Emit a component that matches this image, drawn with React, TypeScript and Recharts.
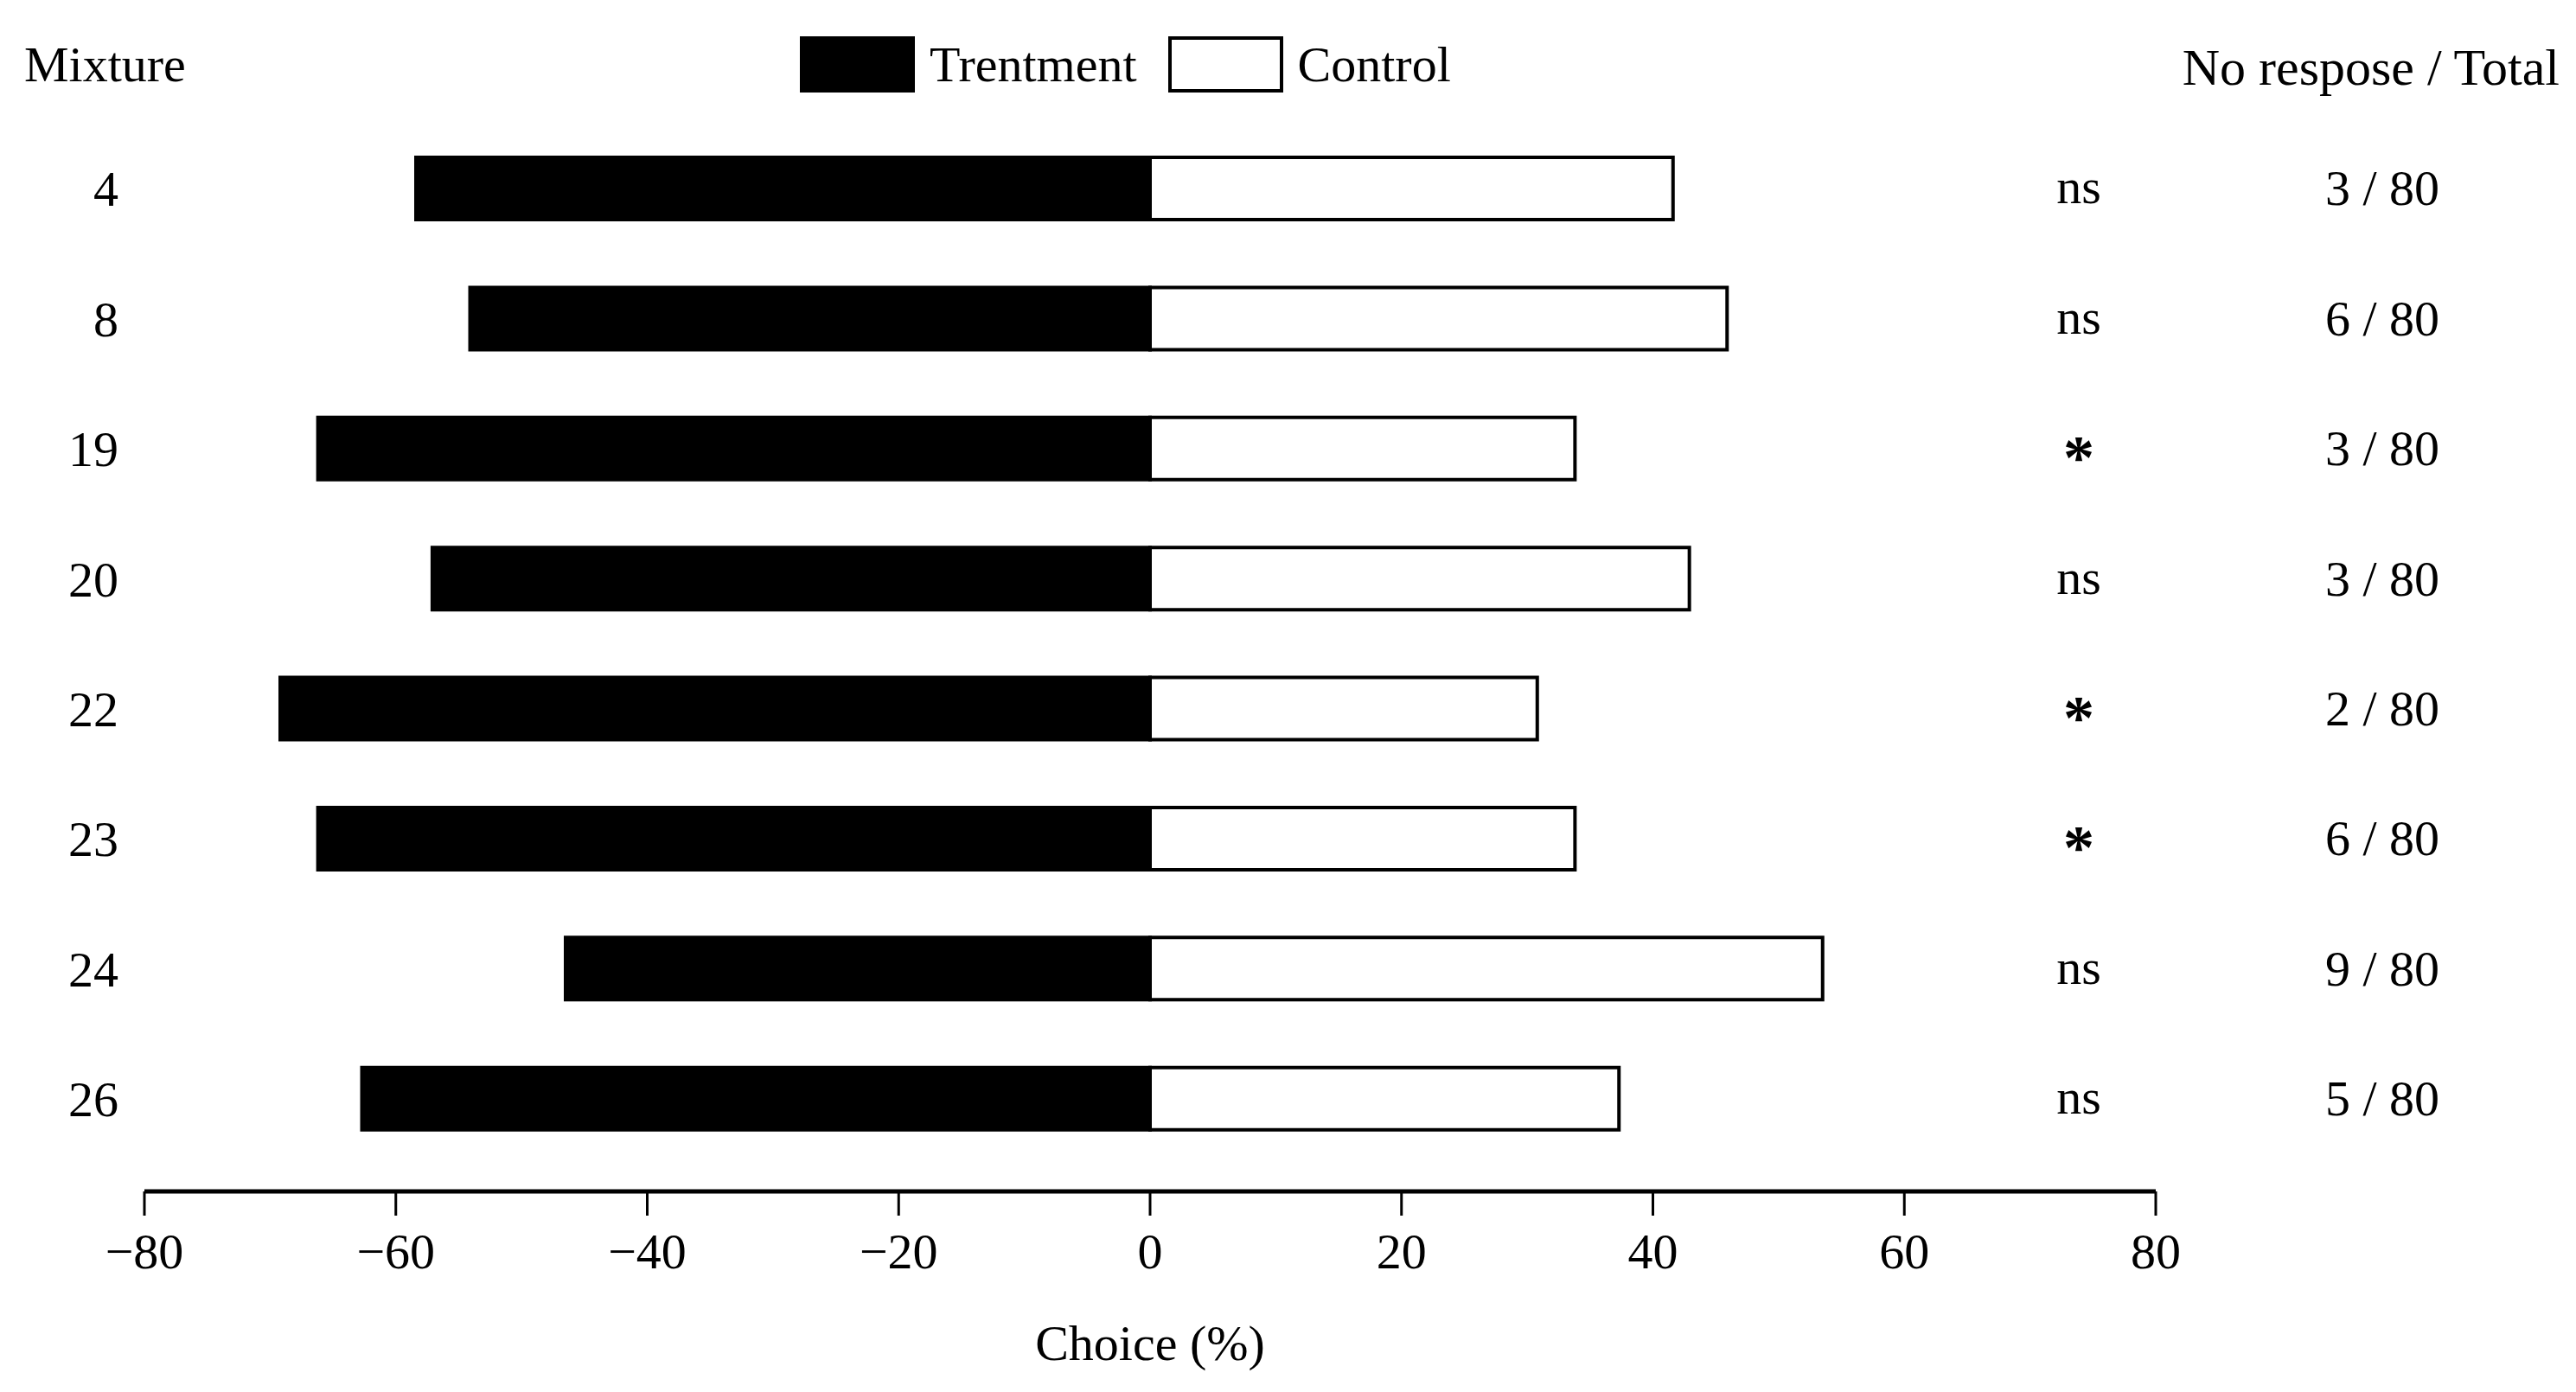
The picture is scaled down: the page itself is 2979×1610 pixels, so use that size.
import React from "react";
import {
  BarChart,
  Bar,
  XAxis,
  YAxis,
  Legend,
} from "recharts";

const mixtures = ["4", "8", "19", "20", "22", "23", "24", "26"];
const treatment = [-58.4, -54.1, -66.2, -57.1, -69.2, -66.2, -46.5, -62.7];
const control = [41.6, 45.9, 33.8, 42.9, 30.8, 33.8, 53.5, 37.3];
const significance = ["ns", "ns", "*", "ns", "*", "*", "ns", "ns"];
const noResponse = [3, 6, 3, 3, 2, 6, 9, 5];
const total = 80;
const xTicks = [-80, -60, -40, -20, 0, 20, 40, 60, 80];
const seriesNames = ["Trentment", "Control"];

const FONT = "'Liberation Serif', 'Times New Roman', serif";
const FS = 58;

const chartData = mixtures.map((m, i) => ({
  mixture: m,
  treatment: treatment[i],
  control: control[i],
}));

const fmt = (v: number) => (v < 0 ? `\u2212${Math.abs(v)}` : `${v}`);

function RightTick(props: any) {
  const { x, y, index } = props;
  const sig = significance[index];
  const star = sig === "*";
  return (
    <g fontFamily={FONT} fontSize={FS} fill="#000">
      <text
        x={x - 89}
        y={star ? y + 9 : y - 3}
        dy="0.35em"
        textAnchor="middle"
        fontSize={star ? 72 : FS}
        fontWeight={star ? "bold" : "normal"}
      >
        {sig}
      </text>
      <text x={x + 262} y={y - 1} dy="0.35em" textAnchor="middle">
        {`${noResponse[index]} / ${total}`}
      </text>
    </g>
  );
}

function LeftTick(props: any) {
  const { y, payload } = props;
  return (
    <text x={137} y={y} dy="0.35em" textAnchor="end" fontFamily={FONT} fontSize={FS} fill="#000">
      {payload.value}
    </text>
  );
}

function LegendContent(props: any) {
  const items = [...(props.payload || [])].sort(
    (a: any, b: any) => seriesNames.indexOf(a.value) - seriesNames.indexOf(b.value)
  );
  return (
    <div style={{ display: "flex", alignItems: "flex-start", height: 101, fontFamily: FONT, fontSize: FS, color: "#000" }}>
      {items.map((entry: any, i: number) => (
        <div key={i} style={{ display: "flex", alignItems: "center", marginRight: 36, height: 65 }}>
          <span
            style={{
              display: "inline-block",
              width: 133,
              height: 65,
              background: entry.color,
              border: "4px solid #000",
              boxSizing: "border-box",
              marginRight: 17,
            }}
          />
          <span style={{ lineHeight: 1 }}>{entry.value}</span>
        </div>
      ))}
    </div>
  );
}

export default function App() {
  return (
    <div style={{ position: "absolute", left: 0, top: 0, width: 2979, height: 1610, background: "#fff" }}>
      <span style={{ position: "absolute", left: 28, top: 46, fontFamily: FONT, fontSize: FS, lineHeight: 1 }}>
        Mixture
      </span>
      <span style={{ position: "absolute", right: 19, top: 48, fontFamily: FONT, fontSize: 60, lineHeight: 1 }}>
        No respose / Total
      </span>
      <BarChart
        width={2979}
        height={1610}
        data={chartData}
        layout="vertical"
        stackOffset="sign"
        barSize={72}
        margin={{ top: 42, right: 0, bottom: 0, left: 0 }}
      >
        <XAxis
          type="number"
          domain={[-80, 80]}
          ticks={xTicks}
          tickFormatter={fmt}
          height={232}
          tickSize={28}
          tickMargin={20}
          axisLine={{ stroke: "#000", strokeWidth: 5 }}
          tickLine={{ stroke: "#000", strokeWidth: 3 }}
          tick={{ fill: "#000", fontFamily: FONT, fontSize: FS }}
          label={{
            value: "Choice (%)",
            position: "insideTop",
            offset: 154,
            fill: "#000",
            fontFamily: FONT,
            fontSize: FS,
          }}
        />
        <YAxis
          type="category"
          dataKey="mixture"
          width={167}
          axisLine={false}
          tickLine={false}
          tickSize={0}
          padding={{ top: 0, bottom: 32 }}
          tick={<LeftTick />}
        />
        <YAxis
          yAxisId="right"
          orientation="right"
          type="category"
          dataKey="mixture"
          width={486}
          axisLine={false}
          tickLine={false}
          tickSize={0}
          tickMargin={0}
          padding={{ top: 0, bottom: 32 }}
          tick={<RightTick />}
        />
        <Legend
          verticalAlign="top"
          align="left"
          wrapperStyle={{ left: 925 }}
          content={<LegendContent />}
        />
        <Bar
          dataKey="treatment"
          name="Trentment"
          stackId="a"
          fill="#000"
          stroke="#000"
          strokeWidth={4}
          isAnimationActive={false}
        />
        <Bar
          dataKey="control"
          name="Control"
          stackId="a"
          fill="#fff"
          stroke="#000"
          strokeWidth={4}
          isAnimationActive={false}
        />
      </BarChart>
    </div>
  );
}
